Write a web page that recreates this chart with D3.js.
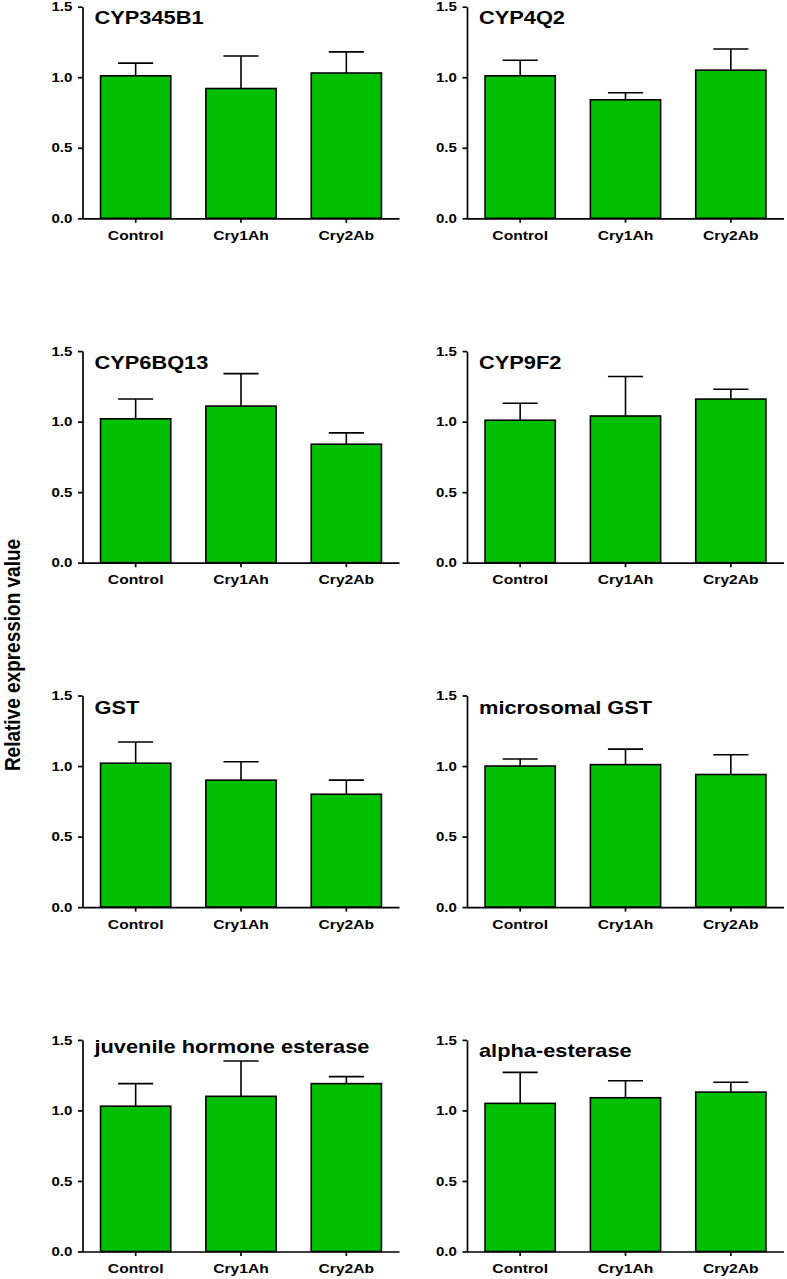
<!DOCTYPE html>
<html>
<head>
<meta charset="utf-8">
<script src="https://cdn.jsdelivr.net/npm/d3@7"></script>
<style>
  html, body { margin: 0; padding: 0; background: #fff; }
  svg { display: block; }
  text { font-family: "Liberation Sans", Arial, sans-serif; font-weight: bold; fill: #000; }
</style>
</head>
<body>
<svg id="chart" width="787" height="1279"></svg>
<script>
// ---- data ----
const groups = ["Control", "Cry1Ah", "Cry2Ab"];
const genes = ["CYP345B1", "CYP4Q2", "CYP6BQ13", "CYP9F2", "GST", "microsomal GST",
               "juvenile hormone esterase", "alpha-esterase"];
const means = [
  [1.01, 0.92, 1.03],
  [1.01, 0.84, 1.05],
  [1.02, 1.11, 0.84],
  [1.01, 1.04, 1.16],
  [1.02, 0.90, 0.80],
  [1.00, 1.01, 0.94],
  [1.03, 1.10, 1.19],
  [1.05, 1.09, 1.13]
];
const errorTops = [
  [1.10, 1.15, 1.18],
  [1.12, 0.89, 1.20],
  [1.16, 1.34, 0.92],
  [1.13, 1.32, 1.23],
  [1.17, 1.03, 0.90],
  [1.05, 1.12, 1.08],
  [1.19, 1.35, 1.24],
  [1.27, 1.21, 1.20]
];
const yTicks = [0, 0.5, 1.0, 1.5];
const yLabel = "Relative expression value";

// ---- layout ----
const SX = 1.16;                    // horizontal text stretch seen in the reference
const colX = [82.5, 467];           // y-axis x positions
const rowTop0 = 6.7, rowStep = 344.4, plotH = 211.6;
const titleOffsets = [16.8, 16.8, 18.2, 18.2, 18.4, 18.4, 13, 16.6];
const barColor = "#00c000";

const svg = d3.select("#chart");

genes.forEach((gene, i) => {
  const col = i % 2, row = Math.floor(i / 2);
  const ax = colX[col];
  const top = rowTop0 + row * rowStep;
  const bottom = top + plotH;

  const x = d3.scaleBand().domain(groups).range([ax + 0.5, ax + 316.5])
    .paddingInner(1 / 3).paddingOuter(1 / 6);
  const y = d3.scaleLinear().domain([0, 1.5]).range([bottom, top]);

  const g = svg.append("g");

  const data = groups.map((grp, j) => ({ grp, v: means[i][j], e: errorTops[i][j] }));

  // error bars (upper only)
  const eg = g.append("g").attr("stroke", "#000").attr("stroke-width", 1.6).attr("fill", "none");
  data.forEach(d => {
    const cx = x(d.grp) + x.bandwidth() / 2;
    const hw = x.bandwidth() / 4;
    eg.append("line").attr("x1", cx).attr("x2", cx).attr("y1", y(d.v)).attr("y2", y(d.e));
    eg.append("line").attr("x1", cx - hw).attr("x2", cx + hw).attr("y1", y(d.e)).attr("y2", y(d.e));
  });

  // bars
  g.append("g").selectAll("rect").data(data).join("rect")
    .attr("x", d => x(d.grp))
    .attr("width", x.bandwidth())
    .attr("y", d => y(d.v))
    .attr("height", d => y(0) - y(d.v))
    .attr("fill", barColor)
    .attr("stroke", "#000")
    .attr("stroke-width", 1.6);

  // y axis
  const yAxis = g.append("g").attr("transform", `translate(${ax},0)`)
    .call(d3.axisLeft(y).tickValues(yTicks).tickFormat(d3.format(".1f"))
      .tickSize(4.5).tickPadding(4.2).tickSizeOuter(0));
  yAxis.selectAll("path, line").attr("stroke", "#000").attr("stroke-width", 1.7);
  yAxis.selectAll("text")
    .style("font-size", "13px")
    .attr("fill", "#000")
    .attr("transform", `scale(${SX},1)`);

  // x axis
  const xAxis = g.append("g").attr("transform", `translate(0,${bottom})`)
    .call(d3.axisBottom(x).tickSize(4.5).tickPadding(7.5).tickSizeOuter(0));
  xAxis.select(".domain").attr("d", `M${ax},0.5H${ax + 317}`);
  xAxis.selectAll("path, line").attr("stroke", "#000").attr("stroke-width", 1.7);
  xAxis.selectAll("text")
    .style("font-size", "13.5px")
    .attr("fill", "#000")
    .attr("transform", `scale(${SX},1)`);

  // title
  g.append("text")
    .attr("transform", `translate(${ax + 12},${top + titleOffsets[i]}) scale(${SX},1)`)
    .style("font-size", "18.8px")
    .text(gene);
});

// shared y label
svg.append("text")
  .attr("transform", `translate(19.8,655) rotate(-90) scale(1,${SX})`)
  .attr("text-anchor", "middle")
  .style("font-size", "19px")
  .text(yLabel);
</script>
</body>
</html>
